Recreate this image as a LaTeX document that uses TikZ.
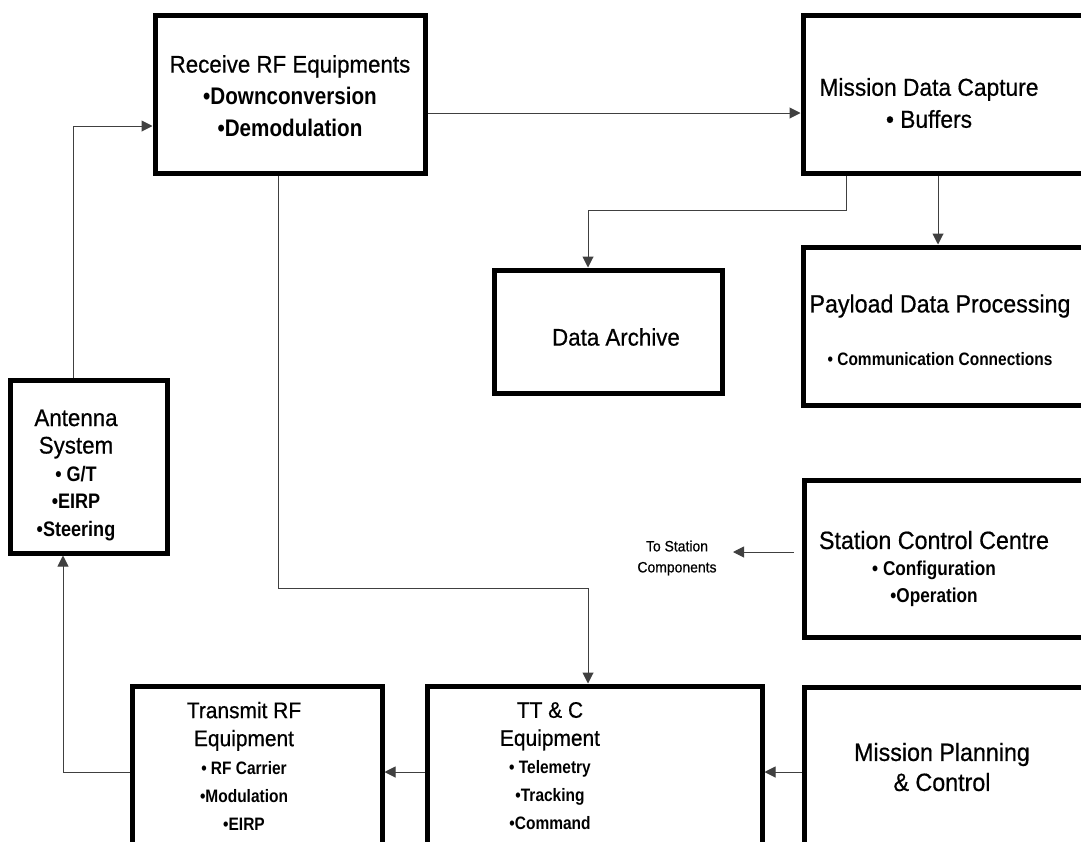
\documentclass[tikz,border=0pt]{standalone}
\usepackage{fontspec}
\setmainfont{Liberation Sans}[FakeStretch=0.93, FakeBold=0.6]
\newfontfamily\itemfont{Liberation Sans}[FakeStretch=0.86]
\usetikzlibrary{arrows.meta}
\newcommand{\itm}[2]{{\itemfont\bfseries\fontsize{#1}{#1}\selectfont #2}}
\begin{document}
\begin{tikzpicture}[x=1pt, y=-1pt,
    box/.style={draw, line width=5pt, inner sep=0pt},
    boxtext/.style={align=center, inner sep=0pt},
    conn/.style={draw=black!75, line width=1pt},
    >={Triangle[length=11pt,width=11pt]}]
                      \useasboundingbox (0,0) rectangle (1081,841);
                      \clip (0,0) rectangle (1081,841);

                      % boxes
                      \node[box, minimum width=270pt, minimum height=158pt] (rx) at (290,94) {};
                      \node[box, minimum width=317pt, minimum height=158pt] (mdc) at (961.5,94) {};
                      \node[box, minimum width=228pt, minimum height=123pt] (arch) at (608,331.5) {};
                      \node[box, minimum width=317pt, minimum height=158pt] (pay) at (961.5,326) {};
                      \node[box, minimum width=157pt, minimum height=173pt] (ant) at (88.5,466.5) {};
                      \node[box, minimum width=316pt, minimum height=157pt] (scc) at (962,558.5) {};
                      \node[box, minimum width=250pt, minimum height=214pt] (tx) at (257,793) {};
                      \node[box, minimum width=335pt, minimum height=214pt] (ttc) at (594.5,793) {};
                      \node[box, minimum width=316pt, minimum height=213pt] (mpc) at (962,793.5) {};
                      \coordinate (tostation) at (733,552);

                      % texts
                      \node[boxtext, font=\fontsize{24}{32}\selectfont] (rxtext) at (290,96)
                        {Receive RF Equipments\\\itm{24}{•Downconversion}\\\itm{24}{•Demodulation}};
                      \node[boxtext, font=\fontsize{24.5}{32}\selectfont] (mdctext) at (929,103)
                        {Mission Data Capture\\• Buffers};
                      \node[boxtext, font=\fontsize{24}{30}\selectfont] (archtext) at (616,337) {Data Archive};
                      \node[boxtext, font=\fontsize{25}{30}\selectfont] (paytext) at (940,330)
                        {Payload Data Processing\\[23pt]\itm{18}{• Communication Connections}};
                      \node[boxtext, font=\fontsize{24}{27.5}\selectfont] (anttext) at (76,475)
                        {Antenna\\System\\\itm{21}{• G/T}\\\itm{21}{•EIRP}\\\itm{21}{•Steering}};
                      \node[boxtext, font=\fontsize{25}{27}\selectfont] (scctext) at (934,569)
                        {Station Control Centre\\\itm{20}{• Configuration}\\\itm{20}{•Operation}};
                      \node[boxtext, font=\fontsize{15}{21}\selectfont] (tostext) at (677,558)
                        {To Station\\Components};
                      \node[boxtext, font=\fontsize{25}{30}\selectfont] (mpctext) at (942,767)
                        {Mission Planning\\\& Control};
                      \node[boxtext, font=\fontsize{22.5}{28}\selectfont] (txtext) at (244,766)
                        {Transmit RF\\Equipment\\\itm{18}{• RF Carrier}\\\itm{18}{•Modulation}\\\itm{18}{•EIRP}};
                      \node[boxtext, font=\fontsize{22.5}{28}\selectfont] (ttctext) at (550,766)
                        {TT \& C\\Equipment\\\itm{18}{• Telemetry}\\\itm{18}{•Tracking}\\\itm{18}{•Command}};

                      % connectors
                      \draw[conn, ->] (rx.east |- 0,113) -- (mdc.west |- 0,113);
                      \draw[conn, ->] (mdc.south -| 846,0) |- (588,210) -- (arch.north -| 588,0);
                      \draw[conn, ->] (mdc.south -| 938,0) -- (pay.north -| 938,0);
                      \draw[conn, ->] (ant.north -| 73,0) |- (rx.west |- 0,126);
                      \draw[conn, ->] (tx.west |- 0,772) -| (ant.south -| 63,0);
                      \draw[conn, ->] (ttc.west |- 0,772) -- (tx.east |- 0,772);
                      \draw[conn, ->] (mpc.west |- 0,772) -- (ttc.east |- 0,772);
                      \draw[conn, ->] (rx.south -| 278,0) |- (588,588) -- (ttc.north -| 588,0);
                      \draw[conn, ->, shorten <=8pt] (scc.west |- 0,552) -- (tostation);
                  \end{tikzpicture}
\end{document}
